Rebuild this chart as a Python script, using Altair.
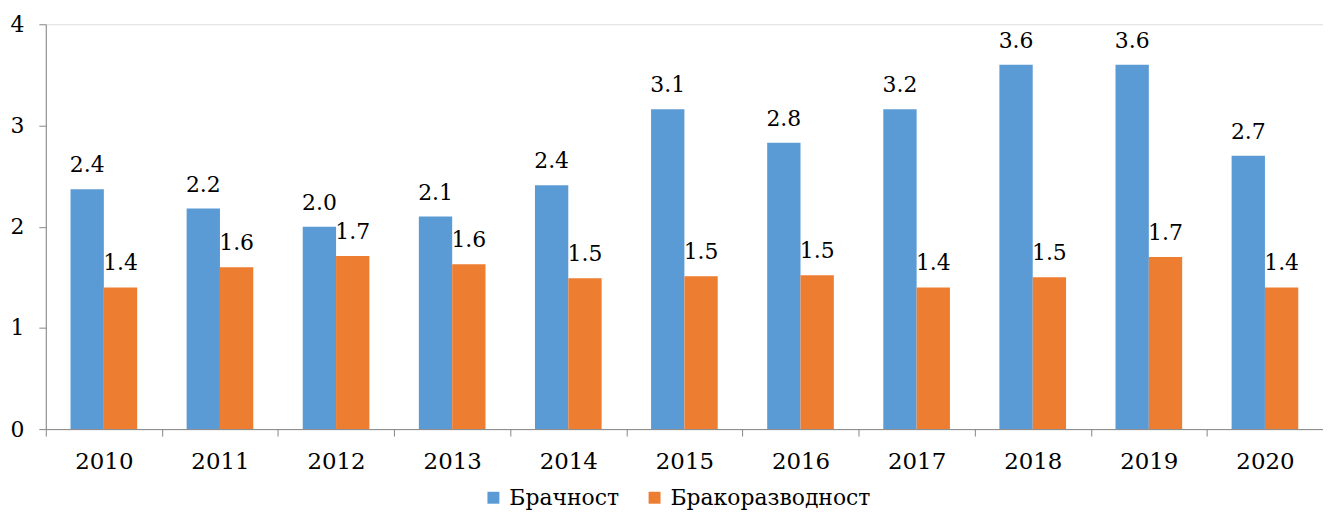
import altair as alt
import pandas as pd

years = ["2010", "2011", "2012", "2013", "2014", "2015", "2016", "2017", "2018", "2019", "2020"]
series = ["Брачност", "Бракоразводност"]
colors = ["#5B9BD5", "#ED7D31"]
marriage = [2.37, 2.18, 2.00, 2.10, 2.41, 3.16, 2.83, 3.16, 3.60, 3.60, 2.70]
divorce = [1.40, 1.60, 1.71, 1.63, 1.49, 1.51, 1.52, 1.40, 1.50, 1.70, 1.40]
marriage_labels = ["2.4", "2.2", "2.0", "2.1", "2.4", "3.1", "2.8", "3.2", "3.6", "3.6", "2.7"]
divorce_labels = ["1.4", "1.6", "1.7", "1.6", "1.5", "1.5", "1.5", "1.4", "1.5", "1.7", "1.4"]
y_ticks = [0, 1, 2, 3, 4]

rows = []
for i, y in enumerate(years):
    rows.append({"year": y, "series": series[0], "value": marriage[i], "label": marriage_labels[i]})
    rows.append({"year": y, "series": series[1], "value": divorce[i], "label": divorce_labels[i]})
df = pd.DataFrame(rows)

FONT = "DejaVu Serif"
W = 1284
H = 407

x_enc = alt.X(
    "year:N",
    sort=years,
    scale=alt.Scale(paddingInner=0, paddingOuter=0),
    axis=alt.Axis(
        title=None,
        labelAngle=0,
        tickBand="extent",
        tickSize=7,
        labelPadding=15,
        labelFont=FONT,
        labelFontSize=23,
        labelColor="#000000",
        domainColor="#868686",
        tickColor="#868686",
        grid=False,
    ),
)
xoff = alt.XOffset("series:N", sort=series, scale=alt.Scale(paddingInner=0, paddingOuter=0.742))
y_enc = alt.Y(
    "value:Q",
    scale=alt.Scale(domain=[0, 4], nice=False),
    axis=alt.Axis(
        title=None,
        values=y_ticks,
        format="d",
        grid=False,
        tickSize=7,
        labelPadding=15,
        labelFont=FONT,
        labelFontSize=22,
        labelColor="#000000",
        domainColor="#868686",
        tickColor="#868686",
    ),
)
color_enc = alt.Color(
    "series:N",
    sort=series,
    scale=alt.Scale(domain=series, range=colors),
    legend=alt.Legend(
        title=None,
        orient="none",
        direction="horizontal",
        legendX=439,
        legendY=465,
        symbolType="square",
        symbolSize=144,
        symbolStrokeWidth=0,
        labelFont=FONT,
        labelFontSize=22,
        labelColor="#000000",
        labelLimit=400,
        labelOffset=5,
        columnPadding=24,
        padding=0,
    ),
)

bars = alt.Chart(df).mark_bar().encode(
    x=x_enc, xOffset=xoff, y=y_enc, color=color_enc
)
texts = alt.Chart(df).mark_text(
    baseline="alphabetic", align="center", dy=-17, font=FONT, fontSize=22, color="#000000"
).encode(x=alt.X("year:N", sort=years), xOffset=alt.XOffset("series:N", sort=series), y="value:Q", text="label:N")

chart = (
    alt.layer(bars, texts)
    .properties(
        width=W,
        height=H,
        autosize=alt.AutoSizeParams(type="none"),
        padding={"left": 38, "top": 15, "right": 0, "bottom": 84},
    )
    .configure_view(stroke=None)
    .configure(background="#ffffff", font=FONT)
)

chart.save("out.html", embed_options={"renderer": "svg", "actions": False})
